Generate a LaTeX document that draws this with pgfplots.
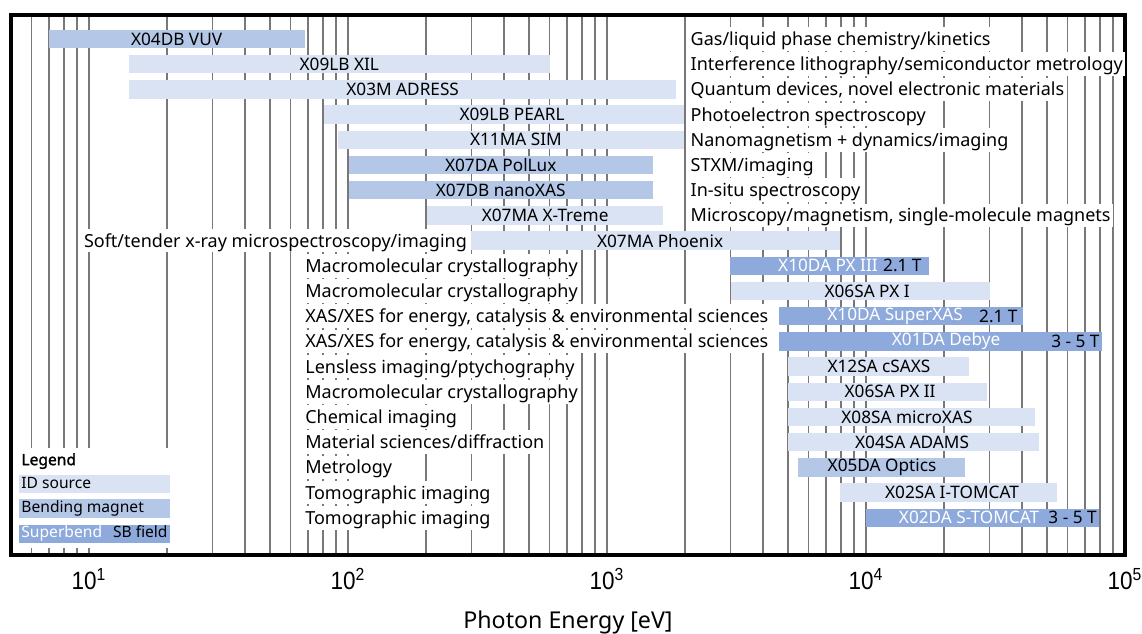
\documentclass[border=0pt]{standalone}
\usepackage{fontspec}
\setmainfont{Noto Sans}
\newfontfamily\boldf{Noto Sans}[FakeBold=1.6]
\newfontfamily\axisfont{Liberation Sans}[FakeStretch=0.9]
\usepackage{pgfplots}
\pgfplotsset{compat=1.18}
\definecolor{idc}{RGB}{218,227,243}
\definecolor{bmc}{RGB}{180,199,231}
\definecolor{sbc}{RGB}{142,169,219}
\definecolor{gridc}{RGB}{120,120,120}
\newcommand{\rng}[4]{\addplot[color=#4, line width=9.2pt, no markers, forget plot] coordinates {(#1,#3) (#2,#3)};}
\tikzset{
  lbl/.style={fill=white, inner xsep=1pt, inner ysep=0.5pt, font=\fontsize{9}{10}\selectfont, text height=1.6ex, text depth=0.4ex},
  bl/.style={inner sep=0pt, font=\fontsize{8.6}{10}\selectfont, anchor=center},
  lg/.style={anchor=west, inner xsep=1pt, inner ysep=0pt, minimum width=75.5pt, text height=6.6pt, text depth=2.6pt, font=\fontsize{7.8}{9}\selectfont}
}
\begin{document}
\begin{tikzpicture}
\begin{axis}[
  name=ax, at={(0,0)}, anchor=south west,
  scale only axis, width=557pt, height=270pt,
  xmode=log, xmin=5, xmax=100000,
  ymin=0.048, ymax=21.476, y dir=reverse,
  ytick=\empty,
  xtick={10,100,1000,10000,100000},
  xticklabels={10\textsuperscript{1},10\textsuperscript{2},10\textsuperscript{3},10\textsuperscript{4},10\textsuperscript{5}},
  minor xtick={5,6,7,8,9,20,30,40,50,60,70,80,90,200,300,400,500,600,700,800,900,2000,3000,4000,5000,6000,7000,8000,9000,20000,30000,40000,50000,60000,70000,80000,90000},
  grid=both,
  major grid style={gridc, line width=0.7pt},
  minor grid style={gridc, line width=0.7pt},
  major tick length=0pt, minor tick length=0pt,
  axis line style={line width=2pt},
  xticklabel style={font=\axisfont\fontsize{12.5}{12}\selectfont, anchor=center, yshift=-12pt},
  xlabel={Photon Energy [eV]},
  xlabel style={font=\fontsize{11.6}{12}\selectfont, at={(axis description cs:0.5,0)}, anchor=center, yshift=-33.5pt},
]
% bars: energy range (eV), row
\rng{7}{68}{1}{bmc}
\rng{14.3}{600}{2}{idc}
\rng{14.3}{1850}{3}{idc}
\rng{81}{1980}{4}{idc}
\rng{91.5}{1980}{5}{idc}
\rng{101}{1500}{6}{bmc}
\rng{101}{1500}{7}{bmc}
\rng{202}{1650}{8}{idc}
\rng{298}{7940}{9}{idc}
\rng{2985}{17500}{10}{sbc}
\rng{3000}{30000}{11}{idc}
\rng{4600}{40400}{12}{sbc}
\rng{4600}{81500}{13}{sbc}
\rng{5000}{25000}{14}{idc}
\rng{5000}{29300}{15}{idc}
\rng{5000}{44900}{16}{idc}
\rng{5000}{46600}{17}{idc}
\rng{5460}{24100}{18}{bmc}
\rng{7940}{54600}{19}{idc}
\rng{10000}{79400}{20}{sbc}
% bar names
\node[bl] at (axis cs:21.8,1) {X04DB VUV};
\node[bl] at (axis cs:92.6,2) {X09LB XIL};
\node[bl] at (axis cs:162.6,3) {X03M ADRESS};
\node[bl] at (axis cs:430,4) {X09LB PEARL};
\node[bl] at (axis cs:445,5) {X11MA SIM};
\node[bl] at (axis cs:389,6) {X07DA PolLux};
\node[bl] at (axis cs:389,7) {X07DB nanoXAS};
\node[bl] at (axis cs:577,8) {X07MA X-Treme};
\node[bl] at (axis cs:1603,9) {X07MA Phoenix};
\node[bl, text=white] at (axis cs:7130,10) {X10DA PX III};
\node[bl, anchor=east] at (axis cs:16440,10) {2.1 T};
\node[bl] at (axis cs:10100,11) {X06SA PX I};
\node[bl, text=white] at (axis cs:12950,12) {X10DA SuperXAS};
\node[bl, anchor=east] at (axis cs:38600,12) {2.1 T};
\node[bl, text=white] at (axis cs:20370,13) {X01DA Debye};
\node[bl, anchor=east] at (axis cs:80000,13) {3 - 5 T};
\node[bl] at (axis cs:11220,14) {X12SA cSAXS};
\node[bl] at (axis cs:12390,15) {X06SA PX II};
\node[bl] at (axis cs:14390,16) {X08SA microXAS};
\node[bl] at (axis cs:15060,17) {X04SA ADAMS};
\node[bl] at (axis cs:11530,18) {X05DA Optics};
\node[bl] at (axis cs:21480,19) {X02SA I-TOMCAT};
\node[bl, text=white] at (axis cs:25000,20) {X02DA S-TOMCAT};
\node[bl, anchor=east] at (axis cs:78000,20) {3 - 5 T};
% application labels
\node[lbl, anchor=west] at (axis cs:2060,1) {Gas/liquid phase chemistry/kinetics};
\node[lbl, anchor=west] at (axis cs:2060,2) {Interference lithography/semiconductor metrology};
\node[lbl, anchor=west] at (axis cs:2060,3) {Quantum devices, novel electronic materials};
\node[lbl, anchor=west] at (axis cs:2060,4) {Photoelectron spectroscopy};
\node[lbl, anchor=west] at (axis cs:2060,5) {Nanomagnetism + dynamics/imaging};
\node[lbl, anchor=west] at (axis cs:2060,6) {STXM/imaging};
\node[lbl, anchor=west] at (axis cs:2060,7) {In-situ spectroscopy};
\node[lbl, anchor=west] at (axis cs:2060,8) {Microscopy/magnetism, single-molecule magnets};
\node[lbl, anchor=east] at (axis cs:294,9) {Soft/tender x-ray microspectroscopy/imaging};
\node[lbl, anchor=west] at (axis cs:67,10) {Macromolecular crystallography};
\node[lbl, anchor=west] at (axis cs:67,11) {Macromolecular crystallography};
\node[lbl, anchor=west] at (axis cs:67,12) {XAS/XES for energy, catalysis \& environmental sciences};
\node[lbl, anchor=west] at (axis cs:67,13) {XAS/XES for energy, catalysis \& environmental sciences};
\node[lbl, anchor=west] at (axis cs:67,14) {Lensless imaging/ptychography};
\node[lbl, anchor=west] at (axis cs:67,15) {Macromolecular crystallography};
\node[lbl, anchor=west] at (axis cs:67,16) {Chemical imaging};
\node[lbl, anchor=west] at (axis cs:67,17) {Material sciences/diffraction};
\node[lbl, anchor=west] at (axis cs:67,18) {Metrology};
\node[lbl, anchor=west] at (axis cs:67,19) {Tomographic imaging};
\node[lbl, anchor=west] at (axis cs:67,20) {Tomographic imaging};
% legend
\fill[white] (axis cs:5.09,17.23) rectangle (axis cs:20.9,21.2);
\node[anchor=west, inner sep=1pt, font=\boldf\fontsize{7.8}{9}\selectfont] at (axis cs:5.37,17.75) {Legend};
\node[lg, fill=idc] at (axis cs:5.37,18.66) {\makebox[73.5pt][l]{ID source}};
\node[lg, fill=bmc] at (axis cs:5.37,19.63) {\makebox[73.5pt][l]{Bending magnet}};
\node[lg, fill=sbc] at (axis cs:5.37,20.64) {\makebox[73.5pt][l]{\textcolor{white}{Superbend}\hspace{0.7em}SB field}};
\end{axis}
\pgfresetboundingbox
\path[use as bounding box] ([xshift=-5.5pt, yshift=-39.5pt]ax.south west) rectangle ([xshift=8.5pt, yshift=7.5pt]ax.north east);
\end{tikzpicture}
\end{document}
